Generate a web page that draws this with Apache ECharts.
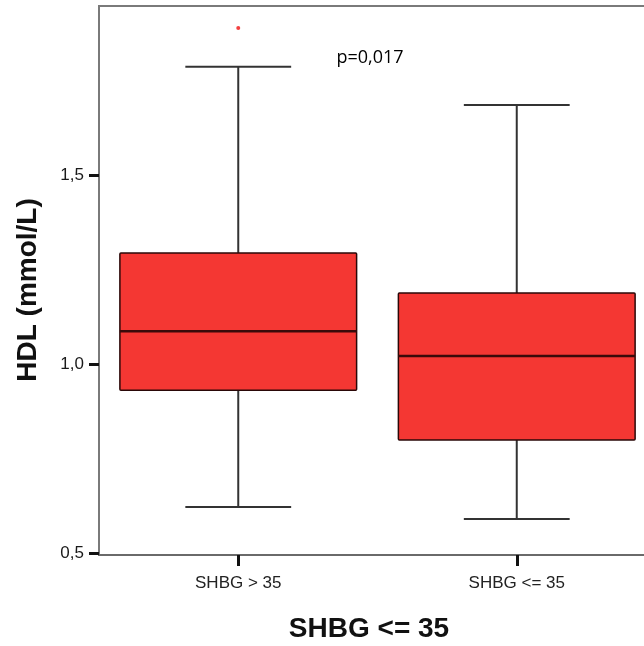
<!DOCTYPE html>
<html>
<head>
<meta charset="utf-8">
<script src="https://cdn.jsdelivr.net/npm/echarts@6/dist/echarts.min.js"></script>
<style>html,body{margin:0;padding:0;background:#fff}#c{width:644px;height:646px}</style>
</head>
<body>
<div id="c"></div>
<script>
const categories = ['SHBG > 35', 'SHBG <= 35'];
// [low whisker, Q1, median, Q3, high whisker]
const boxStats = [
  [0.622, 0.931, 1.087, 1.294, 1.786],
  [0.590, 0.799, 1.021, 1.188, 1.685]
];
const outliers = [[0, 1.889]];
const yTicks = [0.5, 1.0, 1.5];
const pText = 'p=0,017';
const xTitle = 'SHBG <= 35';
const yTitle = 'HDL (mmol/L)';

const chart = echarts.init(document.getElementById('c'), null, {renderer: 'canvas'});
const boxData = boxStats.map((s, i) => [i].concat(s));

function renderBox(params, api) {
  const i = api.value(0);
  const pLow = api.coord([i, api.value(1)]);
  const pQ1 = api.coord([i, api.value(2)]);
  const pMed = api.coord([i, api.value(3)]);
  const pQ3 = api.coord([i, api.value(4)]);
  const pHigh = api.coord([i, api.value(5)]);
  const band = api.size([1, 0])[0];
  const x = pMed[0];
  const bw = band * 0.85;
  const cw = band * 0.38;
  const wStyle = {stroke: '#333', lineWidth: 2};
  return {
    type: 'group',
    children: [
      {type: 'line', shape: {x1: x, y1: pHigh[1], x2: x, y2: pQ3[1]}, style: wStyle},
      {type: 'line', shape: {x1: x, y1: pQ1[1], x2: x, y2: pLow[1]}, style: wStyle},
      {type: 'line', shape: {x1: x - cw / 2, y1: pHigh[1], x2: x + cw / 2, y2: pHigh[1]}, style: wStyle},
      {type: 'line', shape: {x1: x - cw / 2, y1: pLow[1], x2: x + cw / 2, y2: pLow[1]}, style: wStyle},
      {type: 'rect', shape: {x: x - bw / 2, y: pQ3[1], width: bw, height: pQ1[1] - pQ3[1], r: 1},
        style: {fill: '#f43733', stroke: '#2a0808', lineWidth: 1.5}},
      {type: 'line', shape: {x1: x - bw / 2, y1: pMed[1], x2: x + bw / 2, y2: pMed[1]},
        style: {stroke: '#3a0a0a', lineWidth: 2.5}}
    ]
  };
}

chart.setOption({
  animation: false,
  backgroundColor: '#fff',
  grid: {left: 99, top: 6, width: 557, height: 549, outerBoundsMode: 'none', containLabel: false,
    show: true, borderColor: '#7a7a7a', borderWidth: 2},
  xAxis: {
    type: 'category',
    data: categories,
    boundaryGap: true,
    axisLine: {show: true, lineStyle: {color: '#6a6a6a', width: 2}},
    axisTick: {show: true, alignWithLabel: true, length: 11, lineStyle: {color: '#111', width: 3}},
    axisLabel: {color: '#222', fontFamily: 'Liberation Sans', fontSize: 17, margin: 20},
    splitLine: {show: false}
  },
  yAxis: {
    type: 'value',
    min: 0.495,
    max: 1.947,
    axisLine: {show: true, lineStyle: {color: '#7a7a7a', width: 2}},
    axisTick: {show: true, length: 10, customValues: yTicks, lineStyle: {color: '#111', width: 3}},
    axisLabel: {show: true, customValues: yTicks, color: '#1a1a1a', fontFamily: 'Liberation Sans', fontSize: 17, margin: 15,
      formatter: v => v.toFixed(1).replace('.', ',')},
    splitLine: {show: false}
  },
  series: [
    {type: 'custom', renderItem: renderBox, data: boxData, encode: {x: 0, y: [1, 2, 3, 4, 5]}, clip: false},
    {type: 'scatter', data: outliers, symbol: 'circle', symbolSize: 4, itemStyle: {color: '#f01010'}}
  ],
  graphic: [
    {type: 'text', x: 370, y: 58, style: {text: pText, fontFamily: 'Open Sans', fontSize: 18, fill: '#000', align: 'center', verticalAlign: 'middle'}},
    {type: 'text', x: 369, y: 629, style: {text: xTitle, fontFamily: 'Liberation Sans', fontWeight: 'bold', fontSize: 28, fill: '#111', align: 'center', verticalAlign: 'middle'}},
    {type: 'text', x: 28, y: 290, rotation: Math.PI / 2, style: {text: yTitle, fontFamily: 'Liberation Sans', fontWeight: 'bold', fontSize: 28, fill: '#111', align: 'center', verticalAlign: 'middle'}}
  ]
});
</script>
</body>
</html>
